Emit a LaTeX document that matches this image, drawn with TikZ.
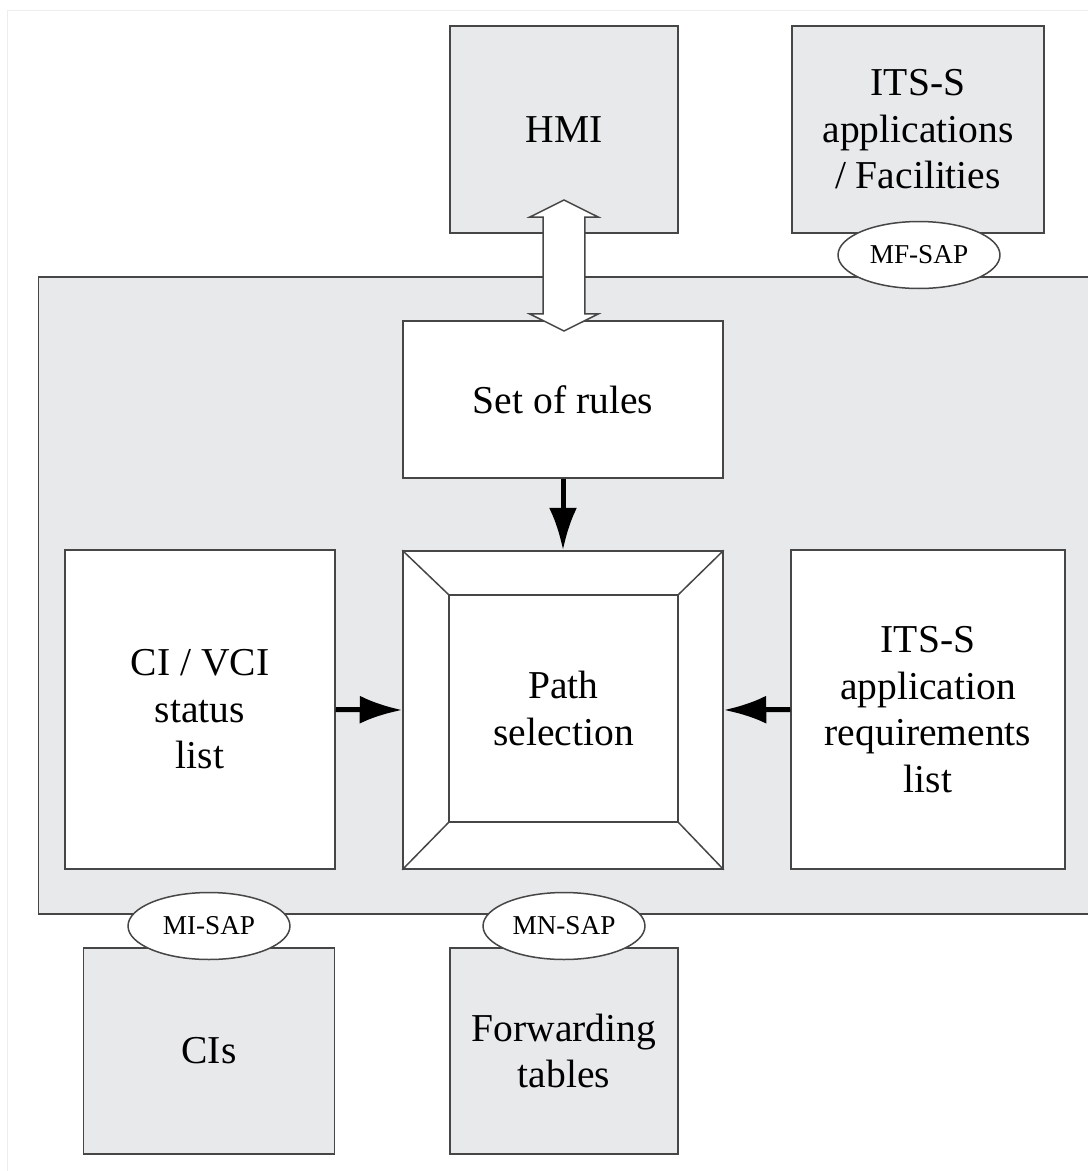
\documentclass[tikz,border=0pt]{standalone}
\usepackage{fontspec}
\setmainfont{Liberation Serif}
\usetikzlibrary{shapes, shapes.geometric, shapes.arrows, calc, arrows.meta, positioning}

\definecolor{boxgray}{RGB}{232,233,235}
\definecolor{edgegray}{RGB}{70,70,70}

\tikzset{
  box/.style={draw=edgegray, line width=0.03cm, fill=boxgray, inner sep=0pt,
    align=center, font=\fontsize{22.5}{26.5}\selectfont},
  listbox/.style={box, fill=white},
  sap/.style={ellipse, draw=edgegray, line width=0.03cm, fill=white, inner sep=0pt,
    minimum width=3.24cm, minimum height=1.34cm, font=\fontsize{15.5}{17}\selectfont},
  feed/.style={->, line width=0.1cm},
}

\begin{document}
\begin{tikzpicture}[x=0.02cm, y=-0.02cm, >={Latex[length=0.85cm, width=0.56cm]}]
  \clip (0,0) rectangle (1088,1171);
  \fill[white] (0,0) rectangle (1088,1171);
  \draw[black!7] (7,10) rectangle (1100,1180);

  % management entity
  \node[box, minimum width=1070*0.02cm, minimum height=637*0.02cm, anchor=north west] (mgmt) at (38,276) {};

  % upper layers
  \node[box, minimum width=228*0.02cm, minimum height=207*0.02cm] (hmi) at (564,129.5) {HMI};
  \node[box, minimum width=252*0.02cm, minimum height=207*0.02cm] (apps) at (918,129.5) {ITS-S\\applications\\/ Facilities};
  \node[sap] (mfsap) at (919,255) {MF-SAP};

  % inside the management entity
  \node[listbox, minimum width=320*0.02cm, minimum height=157*0.02cm] (rules) at (563,399.5) {Set of rules};
  \node[listbox, minimum width=320*0.02cm, minimum height=318*0.02cm] (pathsel) at (563,710) {};
  \node[listbox, minimum width=229*0.02cm, minimum height=227*0.02cm] (pathcore) at (563.5,708.5) {Path\\selection};
  \foreach \c in {north west, north east, south west, south east} {
      \draw[edgegray, line width=0.03cm] (pathsel.\c) -- (pathcore.\c);
  };
  \node[listbox, minimum width=270*0.02cm, minimum height=319*0.02cm] (status) at (200,709.5) {CI / VCI\\status\\list};
  \node[listbox, minimum width=274*0.02cm, minimum height=319*0.02cm] (reqs) at (928,709.5) {ITS-S\\application\\requirements\\list};

  \draw[feed] (rules) -- (pathsel);
  \draw[feed] (status.east) -- (pathsel.west);
  \draw[feed] (reqs.west) -- (pathsel.east);

  % lower layers
  \node[box, minimum width=251*0.02cm, minimum height=206*0.02cm] (cis) at (209,1051) {CIs};
  \node[box, minimum width=228*0.02cm, minimum height=206*0.02cm] (fwd) at (564,1051) {Forwarding\\tables};
  \node[sap] (misap) at (209,926) {MI-SAP};
  \node[sap] (mnsap) at (564,926) {MN-SAP};

  % HMI link
  \node[double arrow, draw=edgegray, line width=0.03cm, fill=white, rotate=90, inner xsep=0pt,
    inner ysep=0.37cm, minimum height=131*0.02cm, minimum width=69*0.02cm,
    double arrow tip angle=127] (hmilink) at (564,265.5) {};
\end{tikzpicture}
\end{document}
